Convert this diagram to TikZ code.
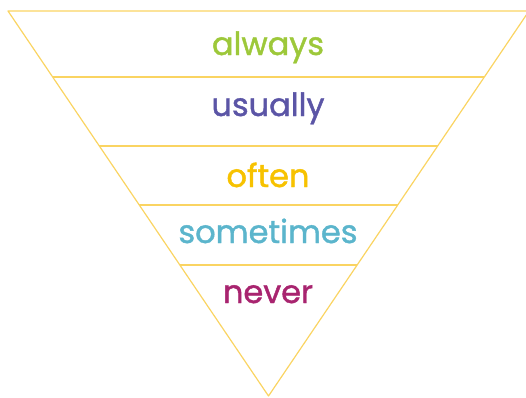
\documentclass[tikz,border=0pt]{standalone}
\usepackage{fontspec}
\setmainfont{Poppins}
\newfontfamily\wordfont{Poppins}[FakeBold=1.3]
\definecolor{linec}{HTML}{FAD462}
\definecolor{cgreen}{HTML}{9DC83A}
\definecolor{cpurple}{HTML}{5B55A6}
\definecolor{cyellow}{HTML}{F7C200}
\definecolor{cblue}{HTML}{5BB5CC}
\definecolor{cmagenta}{HTML}{A8246F}
\begin{document}
\begin{tikzpicture}[x=1pt,y=-1pt,
  band/.style={draw=linec,line width=1.2pt},
  word/.style={font=\wordfont\fontsize{32}{36}\selectfont,inner sep=0pt,anchor=base}]
\clip (0,0) rectangle (526,397);
\useasboundingbox (0,0) rectangle (526,397);
\coordinate (tl) at (8,11);
\coordinate (tr) at (529,11);
\coordinate (ap) at (268.5,396);
\draw[band,line join=round] (tl) -- (tr) -- (ap) -- cycle;
\foreach \yy/\nm in {77/a,146/b,205/c,265/d}{
  \path (tl) -- (ap) coordinate[pos={(\yy-11)/385}] (l\nm);
  \path (tr) -- (ap) coordinate[pos={(\yy-11)/385}] (r\nm);
  \draw[band] (l\nm) -- (r\nm);
}
\node[word,text=cgreen] (always) at (268,55) {always};
\node[word,text=cpurple] (usually) at (268,116) {usually};
\node[word,text=cyellow] (often) at (268,187) {often};
\node[word,text=cblue] (sometimes) at (268,243) {sometimes};
\node[word,text=cmagenta] (never) at (268,303) {never};
\end{tikzpicture}
\end{document}
